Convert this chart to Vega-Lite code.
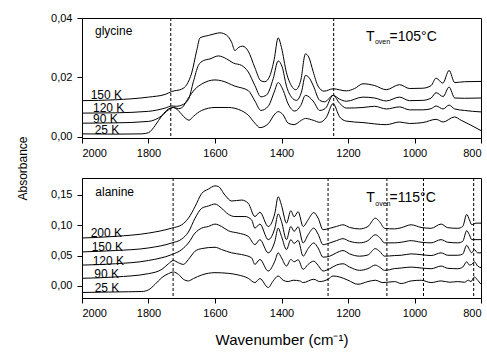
{
  "$schema": "https://vega.github.io/schema/vega-lite/v6.json",
  "background": "white",
  "padding": {"left": 15, "top": 11, "right": 5, "bottom": 5},
  "spacing": 40,
  "bounds": "flush",
  "datasets": {
    "curves": [
      {"m":"glycine","t":"150 K","w":2000,"a":0.0121},{"m":"glycine","t":"150 K","w":1900,"a":0.0124},{"m":"glycine","t":"150 K","w":1800,"a":0.0133},{"m":"glycine","t":"150 K","w":1750,"a":0.0142},{"m":"glycine","t":"150 K","w":1730,"a":0.0152},{"m":"glycine","t":"150 K","w":1700,"a":0.016},{"m":"glycine","t":"150 K","w":1685,"a":0.0175},{"m":"glycine","t":"150 K","w":1670,"a":0.0215},{"m":"glycine","t":"150 K","w":1655,"a":0.029},{"m":"glycine","t":"150 K","w":1645,"a":0.0333},{"m":"glycine","t":"150 K","w":1620,"a":0.0341},{"m":"glycine","t":"150 K","w":1600,"a":0.0347},{"m":"glycine","t":"150 K","w":1585,"a":0.035},{"m":"glycine","t":"150 K","w":1565,"a":0.0342},{"m":"glycine","t":"150 K","w":1550,"a":0.0318},{"m":"glycine","t":"150 K","w":1540,"a":0.029},{"m":"glycine","t":"150 K","w":1530,"a":0.03},{"m":"glycine","t":"150 K","w":1517,"a":0.0305},{"m":"glycine","t":"150 K","w":1500,"a":0.0288},{"m":"glycine","t":"150 K","w":1480,"a":0.0232},{"m":"glycine","t":"150 K","w":1462,"a":0.0188},{"m":"glycine","t":"150 K","w":1450,"a":0.0185},{"m":"glycine","t":"150 K","w":1435,"a":0.0205},{"m":"glycine","t":"150 K","w":1422,"a":0.026},{"m":"glycine","t":"150 K","w":1410,"a":0.0333},{"m":"glycine","t":"150 K","w":1400,"a":0.03},{"m":"glycine","t":"150 K","w":1385,"a":0.0215},{"m":"glycine","t":"150 K","w":1370,"a":0.0171},{"m":"glycine","t":"150 K","w":1357,"a":0.0158},{"m":"glycine","t":"150 K","w":1342,"a":0.019},{"m":"glycine","t":"150 K","w":1328,"a":0.0279},{"m":"glycine","t":"150 K","w":1318,"a":0.0268},{"m":"glycine","t":"150 K","w":1305,"a":0.022},{"m":"glycine","t":"150 K","w":1290,"a":0.017},{"m":"glycine","t":"150 K","w":1272,"a":0.0153},{"m":"glycine","t":"150 K","w":1245,"a":0.0161},{"m":"glycine","t":"150 K","w":1205,"a":0.0154},{"m":"glycine","t":"150 K","w":1180,"a":0.0162},{"m":"glycine","t":"150 K","w":1155,"a":0.0178},{"m":"glycine","t":"150 K","w":1120,"a":0.0172},{"m":"glycine","t":"150 K","w":1085,"a":0.0158},{"m":"glycine","t":"150 K","w":1045,"a":0.0175},{"m":"glycine","t":"150 K","w":1015,"a":0.0162},{"m":"glycine","t":"150 K","w":975,"a":0.0163},{"m":"glycine","t":"150 K","w":950,"a":0.0172},{"m":"glycine","t":"150 K","w":935,"a":0.0197},{"m":"glycine","t":"150 K","w":915,"a":0.018},{"m":"glycine","t":"150 K","w":896,"a":0.0223},{"m":"glycine","t":"150 K","w":879,"a":0.0182},{"m":"glycine","t":"150 K","w":850,"a":0.0185},{"m":"glycine","t":"150 K","w":800,"a":0.0186},
      {"m":"glycine","t":"120 K","w":2000,"a":0.0079},{"m":"glycine","t":"120 K","w":1900,"a":0.008},{"m":"glycine","t":"120 K","w":1800,"a":0.0085},{"m":"glycine","t":"120 K","w":1750,"a":0.0096},{"m":"glycine","t":"120 K","w":1730,"a":0.0103},{"m":"glycine","t":"120 K","w":1715,"a":0.0102},{"m":"glycine","t":"120 K","w":1700,"a":0.0106},{"m":"glycine","t":"120 K","w":1680,"a":0.0125},{"m":"glycine","t":"120 K","w":1665,"a":0.0185},{"m":"glycine","t":"120 K","w":1650,"a":0.024},{"m":"glycine","t":"120 K","w":1635,"a":0.0256},{"m":"glycine","t":"120 K","w":1615,"a":0.0262},{"m":"glycine","t":"120 K","w":1590,"a":0.0272},{"m":"glycine","t":"120 K","w":1565,"a":0.0262},{"m":"glycine","t":"120 K","w":1545,"a":0.0248},{"m":"glycine","t":"120 K","w":1520,"a":0.024},{"m":"glycine","t":"120 K","w":1500,"a":0.0218},{"m":"glycine","t":"120 K","w":1480,"a":0.0172},{"m":"glycine","t":"120 K","w":1462,"a":0.0134},{"m":"glycine","t":"120 K","w":1445,"a":0.014},{"m":"glycine","t":"120 K","w":1425,"a":0.0195},{"m":"glycine","t":"120 K","w":1410,"a":0.0255},{"m":"glycine","t":"120 K","w":1398,"a":0.0235},{"m":"glycine","t":"120 K","w":1385,"a":0.017},{"m":"glycine","t":"120 K","w":1370,"a":0.0133},{"m":"glycine","t":"120 K","w":1355,"a":0.0122},{"m":"glycine","t":"120 K","w":1340,"a":0.015},{"m":"glycine","t":"120 K","w":1328,"a":0.0206},{"m":"glycine","t":"120 K","w":1318,"a":0.02},{"m":"glycine","t":"120 K","w":1305,"a":0.0173},{"m":"glycine","t":"120 K","w":1285,"a":0.0122},{"m":"glycine","t":"120 K","w":1270,"a":0.0117},{"m":"glycine","t":"120 K","w":1245,"a":0.0139},{"m":"glycine","t":"120 K","w":1225,"a":0.0126},{"m":"glycine","t":"120 K","w":1205,"a":0.0119},{"m":"glycine","t":"120 K","w":1155,"a":0.0133},{"m":"glycine","t":"120 K","w":1120,"a":0.013},{"m":"glycine","t":"120 K","w":1085,"a":0.012},{"m":"glycine","t":"120 K","w":1045,"a":0.0133},{"m":"glycine","t":"120 K","w":1015,"a":0.0121},{"m":"glycine","t":"120 K","w":975,"a":0.0122},{"m":"glycine","t":"120 K","w":950,"a":0.013},{"m":"glycine","t":"120 K","w":935,"a":0.0148},{"m":"glycine","t":"120 K","w":914,"a":0.0135},{"m":"glycine","t":"120 K","w":896,"a":0.0167},{"m":"glycine","t":"120 K","w":879,"a":0.013},{"m":"glycine","t":"120 K","w":850,"a":0.0129},{"m":"glycine","t":"120 K","w":800,"a":0.013},
      {"m":"glycine","t":"90 K","w":2000,"a":0.0045},{"m":"glycine","t":"90 K","w":1900,"a":0.0046},{"m":"glycine","t":"90 K","w":1800,"a":0.0051},{"m":"glycine","t":"90 K","w":1760,"a":0.007},{"m":"glycine","t":"90 K","w":1740,"a":0.009},{"m":"glycine","t":"90 K","w":1725,"a":0.0098},{"m":"glycine","t":"90 K","w":1710,"a":0.0094},{"m":"glycine","t":"90 K","w":1700,"a":0.0097},{"m":"glycine","t":"90 K","w":1680,"a":0.013},{"m":"glycine","t":"90 K","w":1660,"a":0.016},{"m":"glycine","t":"90 K","w":1640,"a":0.0177},{"m":"glycine","t":"90 K","w":1600,"a":0.0191},{"m":"glycine","t":"90 K","w":1580,"a":0.0188},{"m":"glycine","t":"90 K","w":1540,"a":0.017},{"m":"glycine","t":"90 K","w":1500,"a":0.0155},{"m":"glycine","t":"90 K","w":1480,"a":0.012},{"m":"glycine","t":"90 K","w":1462,"a":0.0088},{"m":"glycine","t":"90 K","w":1440,"a":0.0102},{"m":"glycine","t":"90 K","w":1422,"a":0.015},{"m":"glycine","t":"90 K","w":1410,"a":0.0182},{"m":"glycine","t":"90 K","w":1395,"a":0.0156},{"m":"glycine","t":"90 K","w":1380,"a":0.011},{"m":"glycine","t":"90 K","w":1360,"a":0.0086},{"m":"glycine","t":"90 K","w":1342,"a":0.0105},{"m":"glycine","t":"90 K","w":1328,"a":0.0139},{"m":"glycine","t":"90 K","w":1305,"a":0.012},{"m":"glycine","t":"90 K","w":1285,"a":0.0088},{"m":"glycine","t":"90 K","w":1268,"a":0.0095},{"m":"glycine","t":"90 K","w":1245,"a":0.0139},{"m":"glycine","t":"90 K","w":1225,"a":0.0112},{"m":"glycine","t":"90 K","w":1205,"a":0.0096},{"m":"glycine","t":"90 K","w":1155,"a":0.0098},{"m":"glycine","t":"90 K","w":1120,"a":0.0102},{"m":"glycine","t":"90 K","w":1085,"a":0.0093},{"m":"glycine","t":"90 K","w":1045,"a":0.01},{"m":"glycine","t":"90 K","w":1015,"a":0.009},{"m":"glycine","t":"90 K","w":975,"a":0.009},{"m":"glycine","t":"90 K","w":950,"a":0.0094},{"m":"glycine","t":"90 K","w":935,"a":0.0103},{"m":"glycine","t":"90 K","w":914,"a":0.0093},{"m":"glycine","t":"90 K","w":896,"a":0.0106},{"m":"glycine","t":"90 K","w":879,"a":0.0093},{"m":"glycine","t":"90 K","w":850,"a":0.0088},{"m":"glycine","t":"90 K","w":800,"a":0.0083},
      {"m":"glycine","t":"25 K","w":2000,"a":0.0009},{"m":"glycine","t":"25 K","w":1900,"a":0.0008},{"m":"glycine","t":"25 K","w":1820,"a":0.0009},{"m":"glycine","t":"25 K","w":1800,"a":0.0013},{"m":"glycine","t":"25 K","w":1780,"a":0.0037},{"m":"glycine","t":"25 K","w":1760,"a":0.007},{"m":"glycine","t":"25 K","w":1740,"a":0.0093},{"m":"glycine","t":"25 K","w":1725,"a":0.0098},{"m":"glycine","t":"25 K","w":1710,"a":0.0087},{"m":"glycine","t":"25 K","w":1690,"a":0.0063},{"m":"glycine","t":"25 K","w":1678,"a":0.0055},{"m":"glycine","t":"25 K","w":1665,"a":0.0068},{"m":"glycine","t":"25 K","w":1640,"a":0.0088},{"m":"glycine","t":"25 K","w":1600,"a":0.0098},{"m":"glycine","t":"25 K","w":1560,"a":0.0098},{"m":"glycine","t":"25 K","w":1520,"a":0.0087},{"m":"glycine","t":"25 K","w":1500,"a":0.0072},{"m":"glycine","t":"25 K","w":1480,"a":0.0045},{"m":"glycine","t":"25 K","w":1465,"a":0.003},{"m":"glycine","t":"25 K","w":1440,"a":0.0043},{"m":"glycine","t":"25 K","w":1420,"a":0.0076},{"m":"glycine","t":"25 K","w":1410,"a":0.0084},{"m":"glycine","t":"25 K","w":1395,"a":0.0073},{"m":"glycine","t":"25 K","w":1380,"a":0.0045},{"m":"glycine","t":"25 K","w":1362,"a":0.004},{"m":"glycine","t":"25 K","w":1340,"a":0.0055},{"m":"glycine","t":"25 K","w":1328,"a":0.0061},{"m":"glycine","t":"25 K","w":1305,"a":0.0055},{"m":"glycine","t":"25 K","w":1285,"a":0.0048},{"m":"glycine","t":"25 K","w":1265,"a":0.0065},{"m":"glycine","t":"25 K","w":1245,"a":0.0111},{"m":"glycine","t":"25 K","w":1225,"a":0.0066},{"m":"glycine","t":"25 K","w":1205,"a":0.0052},{"m":"glycine","t":"25 K","w":1155,"a":0.0047},{"m":"glycine","t":"25 K","w":1085,"a":0.004},{"m":"glycine","t":"25 K","w":1045,"a":0.0049},{"m":"glycine","t":"25 K","w":1015,"a":0.0044},{"m":"glycine","t":"25 K","w":975,"a":0.0047},{"m":"glycine","t":"25 K","w":935,"a":0.0058},{"m":"glycine","t":"25 K","w":914,"a":0.0049},{"m":"glycine","t":"25 K","w":880,"a":0.0066},{"m":"glycine","t":"25 K","w":860,"a":0.0055},{"m":"glycine","t":"25 K","w":830,"a":0.0038},{"m":"glycine","t":"25 K","w":800,"a":0.002},
      {"m":"alanine","t":"200 K","w":2000,"a":0.079},{"m":"alanine","t":"200 K","w":1900,"a":0.0817},{"m":"alanine","t":"200 K","w":1800,"a":0.0871},{"m":"alanine","t":"200 K","w":1730,"a":0.0953},{"m":"alanine","t":"200 K","w":1700,"a":0.1008},{"m":"alanine","t":"200 K","w":1680,"a":0.1117},{"m":"alanine","t":"200 K","w":1660,"a":0.1307},{"m":"alanine","t":"200 K","w":1640,"a":0.1525},{"m":"alanine","t":"200 K","w":1620,"a":0.1596},{"m":"alanine","t":"200 K","w":1600,"a":0.165},{"m":"alanine","t":"200 K","w":1590,"a":0.164},{"m":"alanine","t":"200 K","w":1570,"a":0.1498},{"m":"alanine","t":"200 K","w":1550,"a":0.14},{"m":"alanine","t":"200 K","w":1520,"a":0.1416},{"m":"alanine","t":"200 K","w":1500,"a":0.1362},{"m":"alanine","t":"200 K","w":1480,"a":0.1144},{"m":"alanine","t":"200 K","w":1465,"a":0.1215},{"m":"alanine","t":"200 K","w":1440,"a":0.098},{"m":"alanine","t":"200 K","w":1420,"a":0.12},{"m":"alanine","t":"200 K","w":1410,"a":0.147},{"m":"alanine","t":"200 K","w":1400,"a":0.133},{"m":"alanine","t":"200 K","w":1385,"a":0.1035},{"m":"alanine","t":"200 K","w":1372,"a":0.124},{"m":"alanine","t":"200 K","w":1362,"a":0.114},{"m":"alanine","t":"200 K","w":1350,"a":0.1225},{"m":"alanine","t":"200 K","w":1335,"a":0.098},{"m":"alanine","t":"200 K","w":1320,"a":0.109},{"m":"alanine","t":"200 K","w":1303,"a":0.121},{"m":"alanine","t":"200 K","w":1290,"a":0.112},{"m":"alanine","t":"200 K","w":1275,"a":0.0926},{"m":"alanine","t":"200 K","w":1255,"a":0.095},{"m":"alanine","t":"200 K","w":1235,"a":0.098},{"m":"alanine","t":"200 K","w":1215,"a":0.1008},{"m":"alanine","t":"200 K","w":1195,"a":0.0964},{"m":"alanine","t":"200 K","w":1165,"a":0.094},{"m":"alanine","t":"200 K","w":1140,"a":0.098},{"m":"alanine","t":"200 K","w":1118,"a":0.1117},{"m":"alanine","t":"200 K","w":1105,"a":0.106},{"m":"alanine","t":"200 K","w":1090,"a":0.095},{"m":"alanine","t":"200 K","w":1060,"a":0.094},{"m":"alanine","t":"200 K","w":1040,"a":0.096},{"m":"alanine","t":"200 K","w":1010,"a":0.1008},{"m":"alanine","t":"200 K","w":980,"a":0.0964},{"m":"alanine","t":"200 K","w":950,"a":0.095},{"m":"alanine","t":"200 K","w":920,"a":0.102},{"m":"alanine","t":"200 K","w":900,"a":0.096},{"m":"alanine","t":"200 K","w":870,"a":0.095},{"m":"alanine","t":"200 K","w":855,"a":0.098},{"m":"alanine","t":"200 K","w":843,"a":0.118},{"m":"alanine","t":"200 K","w":835,"a":0.109},{"m":"alanine","t":"200 K","w":828,"a":0.101},{"m":"alanine","t":"200 K","w":815,"a":0.1035},{"m":"alanine","t":"200 K","w":800,"a":0.1035},
      {"m":"alanine","t":"150 K","w":2000,"a":0.0561},{"m":"alanine","t":"150 K","w":1900,"a":0.0583},{"m":"alanine","t":"150 K","w":1800,"a":0.0626},{"m":"alanine","t":"150 K","w":1730,"a":0.0708},{"m":"alanine","t":"150 K","w":1700,"a":0.0773},{"m":"alanine","t":"150 K","w":1680,"a":0.0888},{"m":"alanine","t":"150 K","w":1660,"a":0.1117},{"m":"alanine","t":"150 K","w":1640,"a":0.128},{"m":"alanine","t":"150 K","w":1620,"a":0.1318},{"m":"alanine","t":"150 K","w":1600,"a":0.1351},{"m":"alanine","t":"150 K","w":1580,"a":0.128},{"m":"alanine","t":"150 K","w":1560,"a":0.1182},{"m":"alanine","t":"150 K","w":1540,"a":0.1144},{"m":"alanine","t":"150 K","w":1510,"a":0.1144},{"m":"alanine","t":"150 K","w":1490,"a":0.109},{"m":"alanine","t":"150 K","w":1480,"a":0.0953},{"m":"alanine","t":"150 K","w":1465,"a":0.1019},{"m":"alanine","t":"150 K","w":1440,"a":0.0763},{"m":"alanine","t":"150 K","w":1420,"a":0.0953},{"m":"alanine","t":"150 K","w":1410,"a":0.1187},{"m":"alanine","t":"150 K","w":1400,"a":0.1062},{"m":"alanine","t":"150 K","w":1385,"a":0.0763},{"m":"alanine","t":"150 K","w":1372,"a":0.098},{"m":"alanine","t":"150 K","w":1362,"a":0.0899},{"m":"alanine","t":"150 K","w":1350,"a":0.0975},{"m":"alanine","t":"150 K","w":1335,"a":0.0708},{"m":"alanine","t":"150 K","w":1320,"a":0.0844},{"m":"alanine","t":"150 K","w":1303,"a":0.0953},{"m":"alanine","t":"150 K","w":1290,"a":0.0855},{"m":"alanine","t":"150 K","w":1275,"a":0.068},{"m":"alanine","t":"150 K","w":1255,"a":0.0708},{"m":"alanine","t":"150 K","w":1235,"a":0.0746},{"m":"alanine","t":"150 K","w":1215,"a":0.0779},{"m":"alanine","t":"150 K","w":1195,"a":0.0735},{"m":"alanine","t":"150 K","w":1165,"a":0.071},{"m":"alanine","t":"150 K","w":1140,"a":0.0746},{"m":"alanine","t":"150 K","w":1118,"a":0.0844},{"m":"alanine","t":"150 K","w":1105,"a":0.08},{"m":"alanine","t":"150 K","w":1090,"a":0.071},{"m":"alanine","t":"150 K","w":1060,"a":0.071},{"m":"alanine","t":"150 K","w":1040,"a":0.072},{"m":"alanine","t":"150 K","w":1010,"a":0.0746},{"m":"alanine","t":"150 K","w":980,"a":0.072},{"m":"alanine","t":"150 K","w":950,"a":0.071},{"m":"alanine","t":"150 K","w":920,"a":0.0763},{"m":"alanine","t":"150 K","w":900,"a":0.072},{"m":"alanine","t":"150 K","w":870,"a":0.071},{"m":"alanine","t":"150 K","w":855,"a":0.0735},{"m":"alanine","t":"150 K","w":843,"a":0.091},{"m":"alanine","t":"150 K","w":835,"a":0.0844},{"m":"alanine","t":"150 K","w":828,"a":0.0763},{"m":"alanine","t":"150 K","w":815,"a":0.0763},{"m":"alanine","t":"150 K","w":800,"a":0.0763},
      {"m":"alanine","t":"120 K","w":2000,"a":0.0343},{"m":"alanine","t":"120 K","w":1900,"a":0.0365},{"m":"alanine","t":"120 K","w":1800,"a":0.0419},{"m":"alanine","t":"120 K","w":1730,"a":0.0517},{"m":"alanine","t":"120 K","w":1700,"a":0.0599},{"m":"alanine","t":"120 K","w":1680,"a":0.0708},{"m":"alanine","t":"120 K","w":1660,"a":0.0871},{"m":"alanine","t":"120 K","w":1640,"a":0.0953},{"m":"alanine","t":"120 K","w":1620,"a":0.098},{"m":"alanine","t":"120 K","w":1600,"a":0.1019},{"m":"alanine","t":"120 K","w":1580,"a":0.098},{"m":"alanine","t":"120 K","w":1560,"a":0.091},{"m":"alanine","t":"120 K","w":1530,"a":0.0871},{"m":"alanine","t":"120 K","w":1500,"a":0.0817},{"m":"alanine","t":"120 K","w":1480,"a":0.0681},{"m":"alanine","t":"120 K","w":1465,"a":0.0763},{"m":"alanine","t":"120 K","w":1440,"a":0.0545},{"m":"alanine","t":"120 K","w":1420,"a":0.0735},{"m":"alanine","t":"120 K","w":1410,"a":0.0953},{"m":"alanine","t":"120 K","w":1400,"a":0.0817},{"m":"alanine","t":"120 K","w":1385,"a":0.0599},{"m":"alanine","t":"120 K","w":1372,"a":0.0763},{"m":"alanine","t":"120 K","w":1362,"a":0.07},{"m":"alanine","t":"120 K","w":1350,"a":0.075},{"m":"alanine","t":"120 K","w":1335,"a":0.049},{"m":"alanine","t":"120 K","w":1320,"a":0.0615},{"m":"alanine","t":"120 K","w":1303,"a":0.0708},{"m":"alanine","t":"120 K","w":1290,"a":0.0626},{"m":"alanine","t":"120 K","w":1275,"a":0.0474},{"m":"alanine","t":"120 K","w":1255,"a":0.049},{"m":"alanine","t":"120 K","w":1235,"a":0.0545},{"m":"alanine","t":"120 K","w":1215,"a":0.0583},{"m":"alanine","t":"120 K","w":1195,"a":0.0528},{"m":"alanine","t":"120 K","w":1165,"a":0.049},{"m":"alanine","t":"120 K","w":1140,"a":0.051},{"m":"alanine","t":"120 K","w":1118,"a":0.0615},{"m":"alanine","t":"120 K","w":1105,"a":0.057},{"m":"alanine","t":"120 K","w":1090,"a":0.049},{"m":"alanine","t":"120 K","w":1060,"a":0.05},{"m":"alanine","t":"120 K","w":1040,"a":0.0505},{"m":"alanine","t":"120 K","w":1010,"a":0.0528},{"m":"alanine","t":"120 K","w":980,"a":0.0515},{"m":"alanine","t":"120 K","w":950,"a":0.05},{"m":"alanine","t":"120 K","w":920,"a":0.0545},{"m":"alanine","t":"120 K","w":900,"a":0.0505},{"m":"alanine","t":"120 K","w":870,"a":0.0505},{"m":"alanine","t":"120 K","w":855,"a":0.0525},{"m":"alanine","t":"120 K","w":843,"a":0.067},{"m":"alanine","t":"120 K","w":835,"a":0.06},{"m":"alanine","t":"120 K","w":828,"a":0.0545},{"m":"alanine","t":"120 K","w":820,"a":0.0599},{"m":"alanine","t":"120 K","w":810,"a":0.0545},{"m":"alanine","t":"120 K","w":800,"a":0.0545},
      {"m":"alanine","t":"90 K","w":2000,"a":0.0125},{"m":"alanine","t":"90 K","w":1900,"a":0.0147},{"m":"alanine","t":"90 K","w":1800,"a":0.0202},{"m":"alanine","t":"90 K","w":1760,"a":0.0272},{"m":"alanine","t":"90 K","w":1740,"a":0.0365},{"m":"alanine","t":"90 K","w":1725,"a":0.0419},{"m":"alanine","t":"90 K","w":1710,"a":0.0381},{"m":"alanine","t":"90 K","w":1695,"a":0.0354},{"m":"alanine","t":"90 K","w":1680,"a":0.0436},{"m":"alanine","t":"90 K","w":1660,"a":0.0572},{"m":"alanine","t":"90 K","w":1640,"a":0.0615},{"m":"alanine","t":"90 K","w":1600,"a":0.0637},{"m":"alanine","t":"90 K","w":1580,"a":0.0599},{"m":"alanine","t":"90 K","w":1550,"a":0.0545},{"m":"alanine","t":"90 K","w":1520,"a":0.0517},{"m":"alanine","t":"90 K","w":1490,"a":0.0463},{"m":"alanine","t":"90 K","w":1480,"a":0.0354},{"m":"alanine","t":"90 K","w":1465,"a":0.0436},{"m":"alanine","t":"90 K","w":1440,"a":0.0245},{"m":"alanine","t":"90 K","w":1420,"a":0.0408},{"m":"alanine","t":"90 K","w":1410,"a":0.0545},{"m":"alanine","t":"90 K","w":1400,"a":0.0463},{"m":"alanine","t":"90 K","w":1385,"a":0.0327},{"m":"alanine","t":"90 K","w":1372,"a":0.0436},{"m":"alanine","t":"90 K","w":1362,"a":0.0398},{"m":"alanine","t":"90 K","w":1350,"a":0.043},{"m":"alanine","t":"90 K","w":1335,"a":0.0272},{"m":"alanine","t":"90 K","w":1320,"a":0.0354},{"m":"alanine","t":"90 K","w":1303,"a":0.0408},{"m":"alanine","t":"90 K","w":1290,"a":0.034},{"m":"alanine","t":"90 K","w":1275,"a":0.0245},{"m":"alanine","t":"90 K","w":1255,"a":0.0283},{"m":"alanine","t":"90 K","w":1235,"a":0.0343},{"m":"alanine","t":"90 K","w":1215,"a":0.0365},{"m":"alanine","t":"90 K","w":1195,"a":0.031},{"m":"alanine","t":"90 K","w":1165,"a":0.0256},{"m":"alanine","t":"90 K","w":1140,"a":0.0285},{"m":"alanine","t":"90 K","w":1118,"a":0.0343},{"m":"alanine","t":"90 K","w":1105,"a":0.031},{"m":"alanine","t":"90 K","w":1090,"a":0.0256},{"m":"alanine","t":"90 K","w":1060,"a":0.0285},{"m":"alanine","t":"90 K","w":1040,"a":0.0295},{"m":"alanine","t":"90 K","w":1010,"a":0.031},{"m":"alanine","t":"90 K","w":980,"a":0.0295},{"m":"alanine","t":"90 K","w":950,"a":0.0283},{"m":"alanine","t":"90 K","w":920,"a":0.0327},{"m":"alanine","t":"90 K","w":900,"a":0.029},{"m":"alanine","t":"90 K","w":870,"a":0.0283},{"m":"alanine","t":"90 K","w":855,"a":0.031},{"m":"alanine","t":"90 K","w":843,"a":0.0398},{"m":"alanine","t":"90 K","w":835,"a":0.0345},{"m":"alanine","t":"90 K","w":828,"a":0.0354},{"m":"alanine","t":"90 K","w":820,"a":0.0398},{"m":"alanine","t":"90 K","w":810,"a":0.0327},{"m":"alanine","t":"90 K","w":800,"a":0.03},
      {"m":"alanine","t":"25 K","w":2000,"a":-0.0109},{"m":"alanine","t":"25 K","w":1900,"a":-0.01},{"m":"alanine","t":"25 K","w":1820,"a":-0.0093},{"m":"alanine","t":"25 K","w":1800,"a":-0.0065},{"m":"alanine","t":"25 K","w":1780,"a":0.0027},{"m":"alanine","t":"25 K","w":1760,"a":0.0136},{"m":"alanine","t":"25 K","w":1740,"a":0.0202},{"m":"alanine","t":"25 K","w":1725,"a":0.0229},{"m":"alanine","t":"25 K","w":1710,"a":0.019},{"m":"alanine","t":"25 K","w":1695,"a":0.0109},{"m":"alanine","t":"25 K","w":1680,"a":0.0082},{"m":"alanine","t":"25 K","w":1665,"a":0.012},{"m":"alanine","t":"25 K","w":1640,"a":0.018},{"m":"alanine","t":"25 K","w":1600,"a":0.0218},{"m":"alanine","t":"25 K","w":1560,"a":0.0207},{"m":"alanine","t":"25 K","w":1530,"a":0.018},{"m":"alanine","t":"25 K","w":1500,"a":0.0125},{"m":"alanine","t":"25 K","w":1480,"a":0.0054},{"m":"alanine","t":"25 K","w":1465,"a":0.012},{"m":"alanine","t":"25 K","w":1440,"a":-0.0027},{"m":"alanine","t":"25 K","w":1425,"a":0.0082},{"m":"alanine","t":"25 K","w":1410,"a":0.0163},{"m":"alanine","t":"25 K","w":1395,"a":0.0093},{"m":"alanine","t":"25 K","w":1380,"a":0.0071},{"m":"alanine","t":"25 K","w":1365,"a":0.0093},{"m":"alanine","t":"25 K","w":1345,"a":0.0082},{"m":"alanine","t":"25 K","w":1335,"a":0.0054},{"m":"alanine","t":"25 K","w":1303,"a":0.0109},{"m":"alanine","t":"25 K","w":1285,"a":0.0071},{"m":"alanine","t":"25 K","w":1260,"a":0.0109},{"m":"alanine","t":"25 K","w":1245,"a":0.0163},{"m":"alanine","t":"25 K","w":1225,"a":0.0147},{"m":"alanine","t":"25 K","w":1200,"a":0.0093},{"m":"alanine","t":"25 K","w":1170,"a":0.0027},{"m":"alanine","t":"25 K","w":1140,"a":0.0071},{"m":"alanine","t":"25 K","w":1118,"a":0.0093},{"m":"alanine","t":"25 K","w":1095,"a":0.0054},{"m":"alanine","t":"25 K","w":1060,"a":0.0071},{"m":"alanine","t":"25 K","w":1040,"a":0.0038},{"m":"alanine","t":"25 K","w":1010,"a":0.0082},{"m":"alanine","t":"25 K","w":980,"a":0.0093},{"m":"alanine","t":"25 K","w":950,"a":0.0054},{"m":"alanine","t":"25 K","w":920,"a":0.0082},{"m":"alanine","t":"25 K","w":895,"a":0.006},{"m":"alanine","t":"25 K","w":870,"a":0.0071},{"m":"alanine","t":"25 K","w":850,"a":0.006},{"m":"alanine","t":"25 K","w":838,"a":0.0093},{"m":"alanine","t":"25 K","w":830,"a":0.0071},{"m":"alanine","t":"25 K","w":820,"a":0.0147},{"m":"alanine","t":"25 K","w":810,"a":0.0093},{"m":"alanine","t":"25 K","w":800,"a":0.0027}
    ],
    "vlines": [
      {"m":"glycine","w":1733},{"m":"glycine","w":1243},
      {"m":"alanine","w":1726},{"m":"alanine","w":1260},{"m":"alanine","w":1083},{"m":"alanine","w":973},{"m":"alanine","w":822}
    ],
    "labels": [
      {"m":"glycine","k":"main","txt":"glycine","w":1961,"a":0.0343},
      {"m":"glycine","k":"main","txt":"150 K","w":1974,"a":0.0128},
      {"m":"glycine","k":"main","txt":"120 K","w":1967,"a":0.0083},
      {"m":"glycine","k":"main","txt":"90 K","w":1967,"a":0.0047},
      {"m":"glycine","k":"main","txt":"25 K","w":1962,"a":0.0008},
      {"m":"glycine","k":"big","txt":"T","w":1146,"a":0.0322},
      {"m":"glycine","k":"sub","txt":"oven","w":1119,"a":0.0312},
      {"m":"glycine","k":"big","txt":"=105°C","w":1075,"a":0.0322},
      {"m":"alanine","k":"main","txt":"alanine","w":1960,"a":0.1488},
      {"m":"alanine","k":"main","txt":"200 K","w":1974,"a":0.0802},
      {"m":"alanine","k":"main","txt":"150 K","w":1971,"a":0.0575},
      {"m":"alanine","k":"main","txt":"120 K","w":1968,"a":0.0344},
      {"m":"alanine","k":"main","txt":"90 K","w":1963,"a":0.0135},
      {"m":"alanine","k":"main","txt":"25 K","w":1962,"a":-0.0096},
      {"m":"alanine","k":"big","txt":"T","w":1145,"a":0.1389},
      {"m":"alanine","k":"sub","txt":"oven","w":1118,"a":0.1318},
      {"m":"alanine","k":"big","txt":"=115°C","w":1075,"a":0.1389}
    ]
  },
  "vconcat": [
    {
      "width": 399,
      "height": 120,
      "layer": [
        {
          "data": {"name": "curves"},
          "transform": [{"filter": "datum.m === 'glycine'"}],
          "mark": {"type": "line", "color": "black", "strokeWidth": 1, "interpolate": "monotone"},
          "encoding": {
            "x": {"field": "w", "type": "quantitative",
                  "scale": {"domain": [800, 2000], "reverse": true, "nice": false, "zero": false},
                  "axis": {"title": null, "values": [800,900,1000,1100,1200,1300,1400,1500,1600,1700,1800,1900,2000],
                           "labelExpr": "datum.value % 200 === 0 ? datum.label : ''",
                           "format": "d",
                           "tickSize": {"condition": {"test": "datum.value % 200 === 0", "value": 5}, "value": 3}}},
            "y": {"field": "a", "type": "quantitative",
                  "scale": {"domain": [-0.0005, 0.04], "nice": false, "zero": false},
                  "axis": {"title": "Absorbance", "values": [0, 0.01, 0.02, 0.03, 0.04],
                           "format": ".2f",
                           "labelExpr": "abs(datum.value*50 - round(datum.value*50)) < 0.01 ? datum.label : ''",
                           "tickSize": {"condition": {"test": "abs(datum.value*50 - round(datum.value*50)) < 0.01", "value": 5}, "value": 3},
                           "titleX": -56, "titleY": 150, "titleAngle": -90, "titleBaseline": "alphabetic", "titleAlign": "center",
                           "titleFontSize": 12}},
            "detail": {"field": "t"}
          }
        },
        {
          "data": {"name": "vlines"},
          "transform": [{"filter": "datum.m === 'glycine'"}],
          "mark": {"type": "rule", "color": "black", "strokeWidth": 1, "strokeDash": [3, 2]},
          "encoding": {"x": {"field": "w", "type": "quantitative"}}
        },
        {
          "data": {"name": "labels"},
          "transform": [{"filter": "datum.m === 'glycine' && datum.k === 'main'"}],
          "mark": {"type": "text", "align": "left", "baseline": "alphabetic", "fontSize": 12, "font": "Liberation Sans", "color": "black"},
          "encoding": {"x": {"field": "w", "type": "quantitative"}, "y": {"field": "a", "type": "quantitative"}, "text": {"field": "txt"}}
        },
        {
          "data": {"name": "labels"},
          "transform": [{"filter": "datum.m === 'glycine' && datum.k === 'big'"}],
          "mark": {"type": "text", "align": "left", "baseline": "alphabetic", "fontSize": 14, "font": "Liberation Sans", "color": "black"},
          "encoding": {"x": {"field": "w", "type": "quantitative"}, "y": {"field": "a", "type": "quantitative"}, "text": {"field": "txt"}}
        },
        {
          "data": {"name": "labels"},
          "transform": [{"filter": "datum.m === 'glycine' && datum.k === 'sub'"}],
          "mark": {"type": "text", "align": "left", "baseline": "alphabetic", "fontSize": 7, "font": "Liberation Sans", "color": "black"},
          "encoding": {"x": {"field": "w", "type": "quantitative"}, "y": {"field": "a", "type": "quantitative"}, "text": {"field": "txt"}}
        }
      ]
    },
    {
      "width": 399,
      "height": 120,
      "layer": [
        {
          "data": {"name": "curves"},
          "transform": [{"filter": "datum.m === 'alanine'"}],
          "mark": {"type": "line", "color": "black", "strokeWidth": 1, "interpolate": "monotone"},
          "encoding": {
            "x": {"field": "w", "type": "quantitative",
                  "scale": {"domain": [800, 2000], "reverse": true, "nice": false, "zero": false},
                  "axis": {"title": "Wavenumber (cm⁻¹)", "titleFontSize": 15, "titlePadding": 14,
                           "values": [800,900,1000,1100,1200,1300,1400,1500,1600,1700,1800,1900,2000],
                           "labelExpr": "datum.value % 200 === 0 ? datum.label : ''",
                           "format": "d",
                           "tickSize": {"condition": {"test": "datum.value % 200 === 0", "value": 5}, "value": 3}}},
            "y": {"field": "a", "type": "quantitative",
                  "scale": {"domain": [-0.02, 0.178], "nice": false, "zero": false},
                  "axis": {"title": null, "values": [0, 0.05, 0.1, 0.15], "format": ".2f", "labelOverlap": false, "labelSeparation": 0, "tickSize": 5}},
            "detail": {"field": "t"}
          }
        },
        {
          "data": {"name": "vlines"},
          "transform": [{"filter": "datum.m === 'alanine'"}],
          "mark": {"type": "rule", "color": "black", "strokeWidth": 1, "strokeDash": [3, 2]},
          "encoding": {"x": {"field": "w", "type": "quantitative"}}
        },
        {
          "data": {"name": "labels"},
          "transform": [{"filter": "datum.m === 'alanine' && datum.k === 'main'"}],
          "mark": {"type": "text", "align": "left", "baseline": "alphabetic", "fontSize": 12, "font": "Liberation Sans", "color": "black"},
          "encoding": {"x": {"field": "w", "type": "quantitative"},
                       "y": {"field": "a", "type": "quantitative", "axis": {"title": null, "values": [0, 0.05, 0.1, 0.15], "format": ".2f", "labelOverlap": false, "labelSeparation": 0, "tickSize": 5}},
                       "text": {"field": "txt"}}
        },
        {
          "data": {"name": "labels"},
          "transform": [{"filter": "datum.m === 'alanine' && datum.k === 'big'"}],
          "mark": {"type": "text", "align": "left", "baseline": "alphabetic", "fontSize": 14, "font": "Liberation Sans", "color": "black"},
          "encoding": {"x": {"field": "w", "type": "quantitative"},
                       "y": {"field": "a", "type": "quantitative", "axis": {"title": null, "values": [0, 0.05, 0.1, 0.15], "format": ".2f", "labelOverlap": false, "labelSeparation": 0, "tickSize": 5}},
                       "text": {"field": "txt"}}
        },
        {
          "data": {"name": "labels"},
          "transform": [{"filter": "datum.m === 'alanine' && datum.k === 'sub'"}],
          "mark": {"type": "text", "align": "left", "baseline": "alphabetic", "fontSize": 7, "font": "Liberation Sans", "color": "black"},
          "encoding": {"x": {"field": "w", "type": "quantitative"},
                       "y": {"field": "a", "type": "quantitative", "axis": {"title": null, "values": [0, 0.05, 0.1, 0.15], "format": ".2f", "labelOverlap": false, "labelSeparation": 0, "tickSize": 5}},
                       "text": {"field": "txt"}}
        }
      ]
    }
  ],
  "config": {
    "font": "Liberation Sans",
    "locale": {"number": {"decimal": ",", "thousands": ".", "grouping": [3], "currency": ["", " €"]}},
    "view": {"stroke": "black", "strokeWidth": 1},
    "axis": {
      "grid": false,
      "domainColor": "black",
      "tickColor": "black",
      "labelColor": "black",
      "titleColor": "black",
      "labelFont": "Liberation Sans",
      "titleFont": "Liberation Sans",
      "labelFontSize": 11,
      "titleFontWeight": "normal",
      "labelPadding": 4,
      "labelOverlap": false
    },
    "axisY": {"labelPadding": 5, "labelOverlap": false},
    "axisQuantitative": {"labelOverlap": false}
  }
}
